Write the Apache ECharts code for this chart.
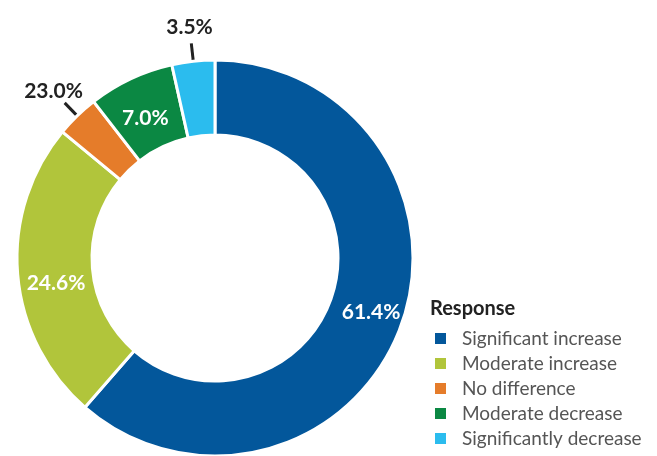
<!DOCTYPE html>
<html>
<head>
<meta charset="utf-8">
<script src="https://cdn.jsdelivr.net/npm/echarts@6/dist/echarts.min.js"></script>
<style>
  html, body { margin: 0; padding: 0; background: #fff; }
  #chart { width: 657px; height: 456px; }
</style>
</head>
<body>
<div id="chart"></div>
<script>
// data
const categories = ['Significant increase', 'Moderate increase', 'No difference', 'Moderate decrease', 'Significantly decrease'];
const values = [61.4, 24.6, 3.5, 7.0, 3.5];
// printed labels (the orange one says 23.0% in the original)
const labels = ['61.4%', '24.6%', '23.0%', '7.0%', '3.5%'];
const outside = [false, false, true, false, true];
const colors = ['#03579b', '#b1c53b', '#e57c2a', '#0b8843', '#2bbcee'];

const chartDom = document.getElementById('chart');
const myChart = echarts.init(chartDom);

const CENTER = [215, 258];
// small nudges so the inside labels sit where the original put them
const insideOffsets = [[3, -3], [4, 12], [0, 0], [0, 8], [0, 0]];

const ringData = categories.map((name, i) => ({
  name: name,
  value: values[i],
  itemStyle: { color: colors[i] },
  label: { show: !outside[i], formatter: labels[i], offset: insideOffsets[i] }
}));

// thin invisible ring on the donut edge: only draws the short leader lines
const lineData = categories.map((name, i) => ({
  name: name,
  value: values[i],
  itemStyle: { color: 'transparent' },
  label: { show: outside[i], formatter: labels[i], color: 'transparent' },
  labelLine: { show: outside[i] }
}));

// invisible ring further out: places the outside labels centred over the lines
const outerData = categories.map((name, i) => ({
  name: name,
  value: values[i],
  itemStyle: { color: 'transparent' },
  label: { show: outside[i], formatter: labels[i] }
}));

const option = {
  animation: false,
  color: colors,
  title: {
    text: 'Response',
    left: 430,
    top: 299,
    padding: 0,
    textStyle: { fontFamily: 'Lato', fontWeight: 'bold', fontSize: 20, color: '#222' }
  },
  legend: {
    orient: 'vertical',
    left: 433,
    top: 329,
    padding: 0,
    icon: 'rect',
    itemWidth: 13,
    itemHeight: 13,
    itemGap: 6,
    data: categories,
    textStyle: { fontFamily: 'Lato', fontSize: 19, color: '#555', lineHeight: 19, padding: [0, 0, 0, 10] }
  },
  series: [
    {
      type: 'pie',
      center: CENTER,
      radius: [123, 198],
      startAngle: 90,
      silent: true,
      itemStyle: { borderColor: '#fff', borderWidth: 3 },
      label: {
        position: 'inside',
        color: '#fff',
        fontFamily: 'Lato',
        fontWeight: 'bold',
        fontSize: 21
      },
      labelLine: { show: false },
      data: ringData
    },
    {
      type: 'pie',
      center: CENTER,
      radius: [198, 199],
      startAngle: 90,
      silent: true,
      avoidLabelOverlap: false,
      labelLayout: { hideOverlap: false },
      label: { position: 'outside', fontSize: 2 },
      labelLine: {
        length: 17,
        length2: 0,
        lineStyle: { color: '#222', width: 3 }
      },
      data: lineData
    },
    {
      type: 'pie',
      center: CENTER,
      radius: [226, 232],
      startAngle: 90,
      silent: true,
      labelLayout: { hideOverlap: false },
      label: {
        position: 'inside',
        color: '#222',
        fontFamily: 'Lato',
        fontWeight: 'bold',
        fontSize: 21
      },
      labelLine: { show: false },
      data: outerData
    }
  ]
};

option && myChart.setOption(option);
</script>
</body>
</html>
